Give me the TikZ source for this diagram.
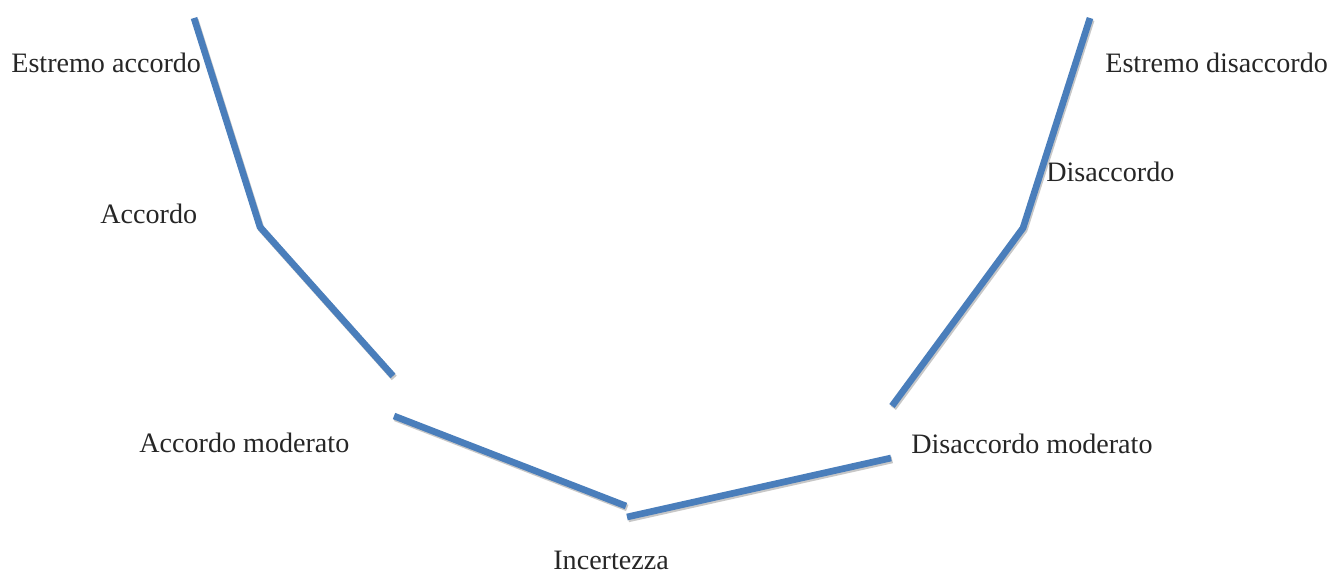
\documentclass[tikz,border=0pt]{standalone}
\usepackage{fontspec}
\setmainfont{Liberation Serif}
\usetikzlibrary{positioning}
\definecolor{segblue}{HTML}{4A7EBB}
\definecolor{txtgrey}{HTML}{262626}
\tikzset{lbl/.style={anchor=base west, inner sep=0pt, text=txtgrey, font=\fontsize{16}{19}\selectfont}}
\tikzset{seg/.style={draw, segblue, line width=3.8pt, preaction={draw, black!22, line width=3.8pt, transform canvas={xshift=0.7pt, yshift=-1.1pt}}}}

\begin{document}
\begin{tikzpicture}[x=0.02cm, y=-0.02cm]
		\useasboundingbox (0,0) rectangle (1331,574);

		% end points of the segments
		\coordinate (a1) at (194,18);
		\coordinate (a2) at (260,227);
		\coordinate (a3) at (393,376);
		\coordinate (b1) at (394,416);
		\coordinate (b2) at (626,506);
		\coordinate (c1) at (627,517);
		\coordinate (c2) at (891,458);
		\coordinate (d1) at (892,406);
		\coordinate (d2) at (1023,228);
		\coordinate (d3) at (1090,18);

		\node [lbl]		(ea) at (11,73)		{Estremo accordo};
		\node [lbl]		(ac) at (100,223)	{Accordo};
		\node [lbl]		(am) at (139,452)	{Accordo moderato};
		\node [lbl]		(in) at (553,569)	{Incertezza};
		\node [lbl]		(dm) at (911,453)	{Disaccordo moderato};
		\node [lbl]		(di) at (1046,182)	{Disaccordo};
		\node [lbl]		(ed) at (1105,73)	{Estremo disaccordo};

		\path [seg] (a1) -- (a2) -- (a3);
		\path [seg] (b1) -- (b2);
		\path [seg] (c1) -- (c2);
		\path [seg] (d1) -- (d2) -- (d3);
	\end{tikzpicture}
\end{document}
